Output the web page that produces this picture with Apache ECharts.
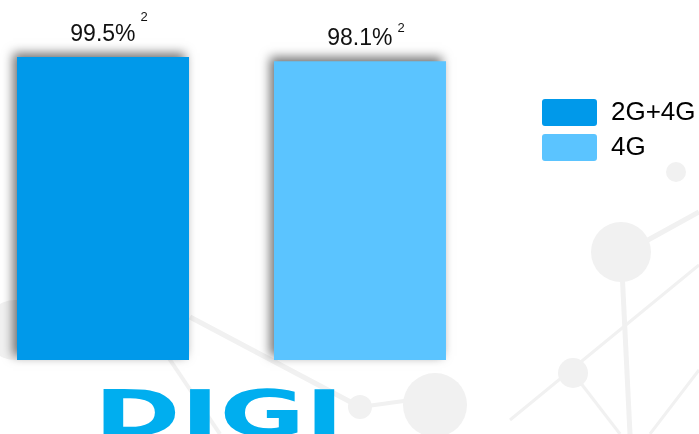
<!DOCTYPE html>
<html>
<head>
<meta charset="utf-8">
<script src="https://cdn.jsdelivr.net/npm/echarts@6/dist/echarts.min.js"></script>
<style>html,body{margin:0;padding:0;background:#fff}#c{width:699px;height:434px}</style>
</head>
<body>
<div id="c"></div>
<script>
var categories = [''];
var seriesNames = ['2G+4G', '4G'];
var values2G4G = [99.5];
var values4G = [98.1];
var labelTexts = ['99.5%', '98.1%'];
var footnote = '2';
var logoText = 'DIGI';

var chart = echarts.init(document.getElementById('c'));
var BG = '#f1f1f1';
function circ(cx, cy, r) { return {type:'circle', silent:true, z:-10, shape:{cx:cx, cy:cy, r:r}, style:{fill:BG}}; }
function ln(x1, y1, x2, y2, w) { return {type:'line', silent:true, z:-10, shape:{x1:x1, y1:y1, x2:x2, y2:y2}, style:{stroke:BG, lineWidth:w}}; }

var supLift = [22, 15];
function makeLabel(i) {
  return {
    show: true,
    position: 'top',
    distance: 11,
    offset: [6, 0],
    formatter: '{a|' + labelTexts[i] + '}{b|' + footnote + '}',
    rich: {
      a: {fontSize: 23, lineHeight: 26, verticalAlign: 'bottom', color: '#111', fontFamily: 'Liberation Sans, Arial, sans-serif'},
      b: {fontSize: 13, lineHeight: 14, verticalAlign: 'bottom', color: '#111', fontFamily: 'Liberation Sans, Arial, sans-serif', padding: [0, 0, supLift[i], 5]}
    }
  };
}

var iconPath = 'path://M3,0H52A3,3 0 0 1 55,3V24A3,3 0 0 1 52,27H3A3,3 0 0 1 0,24V3A3,3 0 0 1 3,0Z';

var option = {
  animation: false,
  backgroundColor: '#fff',
  grid: {left: 0, width: 463, top: 55.5, bottom: 74},
  xAxis: {type: 'category', data: categories, show: false},
  yAxis: {type: 'value', min: 0, max: 100, show: false},
  legend: {
    orient: 'vertical', left: 542, top: 99, padding: 0,
    itemWidth: 55, itemHeight: 27, itemGap: 8,
    icon: iconPath,
    textStyle: {fontSize: 26, color: '#000', fontFamily: 'Liberation Sans, Arial, sans-serif', padding: [2, 0, 0, 9]},
    data: seriesNames
  },
  graphic: [
    ln(190, 317, 360, 407, 5), ln(360, 407, 433, 397, 4), circ(360, 407, 12), circ(435, 405, 32),
    ln(160, 345, 220, 434, 4), circ(15, 330, 30),
    ln(648, 240, 699, 212, 5), ln(622, 270, 630, 434, 5), circ(621, 252, 30), circ(676, 172, 10),
    ln(510, 420, 699, 265, 3), circ(573, 373, 15), ln(573, 373, 620, 434, 3), ln(650, 434, 699, 370, 3),
    {
      type: 'text', silent: true, z: 5,
      x: 94, y: 387, scaleX: 1.63, scaleY: 1,
      style: {text: logoText, font: 'bold 64px "DejaVu Sans"', fill: '#00AEEF', textVerticalAlign: 'top'}
    }
  ],
  series: [
    {
      name: seriesNames[0], type: 'bar', data: values2G4G,
      barWidth: 172, barGap: '49.4%',
      itemStyle: {color: '#0099EA', shadowColor: 'rgba(0,0,0,0.55)', shadowBlur: 10, shadowOffsetX: -4, shadowOffsetY: -4},
      label: makeLabel(0)
    },
    {
      name: seriesNames[1], type: 'bar', data: values4G,
      barWidth: 172, barGap: '49.4%',
      itemStyle: {color: '#5BC4FF', shadowColor: 'rgba(0,0,0,0.55)', shadowBlur: 10, shadowOffsetX: -4, shadowOffsetY: -4},
      label: makeLabel(1)
    }
  ]
};
chart.setOption(option);
</script>
</body>
</html>
